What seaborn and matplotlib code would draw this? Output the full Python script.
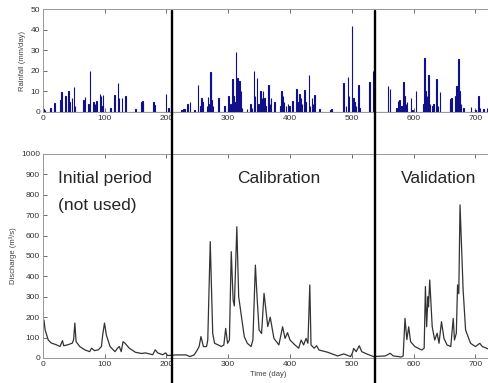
import numpy as np
import pandas as pd
import seaborn as sns
import matplotlib.pyplot as plt
from matplotlib.lines import Line2D

# daily rainfall events (day, mm/day)
rain_day = [0, 1, 3, 12, 19, 28, 30, 31, 36, 41, 43, 47, 50, 52, 66, 68, 74, 76, 82, 84, 87,
            92, 94, 96, 97, 109, 116, 121, 123, 128, 133, 150, 159, 161, 162, 179, 180, 199, 203,
            224, 227, 229, 234, 238, 245, 251, 255, 256, 258, 265, 267, 269, 271, 272, 273, 275,
            284, 294, 299, 300, 303, 306, 308, 310, 312, 314, 315, 318, 320, 322, 330, 336, 338,
            341, 343, 346, 349, 352, 354, 356, 358, 360, 365, 367, 369, 374, 384, 386, 388, 390,
            393, 396, 399, 404, 410, 412, 415, 417, 419, 423, 425, 430, 432, 435, 437, 439, 447,
            465, 467, 486, 490, 493, 495, 500, 502, 504, 506, 510, 512, 528, 534,
            558, 561, 572, 574, 577, 580, 583, 585, 587, 589, 595, 598, 603, 615, 617, 619, 621,
            624, 626, 630, 632, 636, 639, 642, 658, 659, 661, 667, 669, 672, 674, 676, 680, 692,
            700, 704, 707, 712, 718]
rain_mm = [2, 1.5, 1, 2, 4.5, 6, 9.5, 3, 8, 10, 5, 7, 12, 3, 6, 7.5, 4, 20, 5, 4, 5.5,
           9, 8, 3, 8.5, 2, 8.5, 14, 7, 7, 8, 1.5, 5, 5.5, 4, 5, 3.5, 9, 2,
           1, 1.5, 1.5, 4, 5, 1, 13, 3, 7, 5, 3, 7.5, 4, 19.5, 19.5, 6, 3,
           7, 3, 3, 8, 4, 16, 8, 5, 29, 7, 16.5, 15, 10, 2, 1.5, 4, 2,
           20, 8, 16.5, 4, 10, 7, 10, 7, 3, 13, 4, 7, 5, 3, 10, 8, 5,
           3, 4, 3, 5.5, 11, 5, 9, 7, 4, 10.5, 5, 18, 3, 7, 4, 8.5, 1.5,
           1, 1.5, 14, 3, 17, 8, 42, 7, 5, 3, 13, 2, 14.5, 20,
           12.5, 11, 2, 5.5, 6, 3, 14.5, 8, 4, 5, 7, 1, 10, 4, 26.5, 10, 8,
           18, 4, 3, 4, 16, 3, 9.5, 5, 6.5, 7, 8, 12.5, 26, 10, 4, 2, 2.5,
           1, 8, 2, 1.5, 2]

# observed discharge (day, m3/s)
q_day = [0, 2, 4, 9, 14, 22, 28, 32, 34, 41, 48, 50, 52, 54, 60, 68, 76, 79, 84, 90, 95, 97,
         100, 103, 109, 117, 121, 124, 127, 130, 133, 140, 150, 160, 166, 178, 182, 186, 194,
         199, 202, 215, 232, 238, 245, 250, 253, 256, 260, 265, 267, 271, 275, 278, 284, 289,
         293, 296, 299, 302, 305, 308, 310, 314, 317, 320, 326, 331, 337, 340, 344, 347, 350,
         354, 358, 361, 364, 368, 374, 382, 388, 392, 396, 400, 408, 414, 418, 422, 426, 429,
         432, 434, 439, 443, 447, 461, 477, 487, 498, 501, 503, 507, 512, 516, 524, 535,
         554, 562, 567, 580, 583, 586, 589, 592, 595, 602, 613, 617, 619, 621, 623, 624, 626,
         630, 634, 638, 641, 645, 649, 654, 660, 664, 666, 669, 671, 673, 675, 680, 684, 692,
         700, 707, 711, 722, 730]
q_val = [180, 186, 137, 88, 73, 65, 56, 85, 60, 65, 73, 90, 171, 80, 56, 40, 31, 48, 36, 40, 56, 112,
         171, 112, 56, 31, 48, 56, 31, 80, 73, 48, 28, 22, 25, 16, 40, 25, 16,
         25, 12, 15, 15, 7, 15, 39, 56, 105, 56, 56, 88, 570, 120, 72, 64, 56,
         64, 145, 72, 88, 521, 284, 255, 643, 300, 235, 105, 72, 56, 88, 455, 284, 137,
         120, 317, 235, 154, 200, 96, 64, 153, 96, 124, 88, 64, 48, 88, 64, 96, 72,
         358, 64, 48, 60, 39, 28, 10, 20, 7, 25, 47, 31, 60, 31, 20, 7,
         10, 23, 10, 5, 10, 194, 90, 153, 80, 56, 39, 48, 350, 153, 300, 250, 382,
         153, 88, 121, 72, 178, 96, 64, 56, 194, 88, 121, 358, 315, 750, 333, 137, 72,
         56, 72, 56, 43, 40]

xticks = [0, 100, 200, 300, 400, 500, 600, 700]
split_px = [172, 375]   # dividing lines, figure pixels

rain = pd.DataFrame({"day": rain_day, "mm": rain_mm})
flow = pd.DataFrame({"day": q_day, "q": q_val})

sns.set_style("ticks")
plt.rcParams['font.family'] = ['Liberation Sans', 'DejaVu Sans']

fig = plt.figure(figsize=(4.89, 3.83), dpi=100)
ax1 = fig.add_axes([0.0873, 0.7076, 0.923, 0.268])
ax2 = fig.add_axes([0.0873, 0.0653, 0.923, 0.533])

sns.histplot(data=rain, x="day", weights="mm", binwidth=1, binrange=(0, 730),
             color="#10108c", alpha=1, linewidth=0.8, edgecolor="#10108c", ax=ax1)
ax1.set_xlim(0, 730)
ax1.set_ylim(0, 50)
ax1.set_yticks([0, 10, 20, 30, 40, 50])
ax1.set_ylabel("Rainfall (mm/day)", fontsize=5.5, color="#444", labelpad=3)
ax1.set_xlabel("")

sns.lineplot(data=flow, x="day", y="q", color="#333333", linewidth=0.9, ax=ax2)
ax2.set_xlim(0, 730)
ax2.set_ylim(0, 1000)
ax2.set_yticks(range(0, 1001, 100))
ax2.set_ylabel("Discharge (m³/s)", fontsize=5.5, color="#444", labelpad=3)
ax2.set_xlabel("Time (day)", fontsize=5.5, color="#444", labelpad=2)

for ax in (ax1, ax2):
    ax.set_xticks(xticks)
    ax.tick_params(direction="in", length=3, width=0.6, labelsize=6, colors="#555",
                   labelcolor="#333", top=True, right=True, pad=2)
    for s in ax.spines.values():
        s.set_color("#999")
        s.set_linewidth(0.7)

ax2.text(25, 858, "Initial period", fontsize=12.5, va="baseline", ha="left")
ax2.text(25, 725, "(not used)", fontsize=12.5, va="baseline", ha="left")
ax2.text(382, 858, "Calibration", fontsize=12.5, va="baseline", ha="center")
ax2.text(640, 858, "Validation", fontsize=12.5, va="baseline", ha="center")

for px in split_px:
    fig.add_artist(Line2D([px / 489, px / 489], [0, 1 - 11 / 383], color="black",
                          linewidth=1.7, zorder=10))

fig.savefig("out.png", dpi=100)
